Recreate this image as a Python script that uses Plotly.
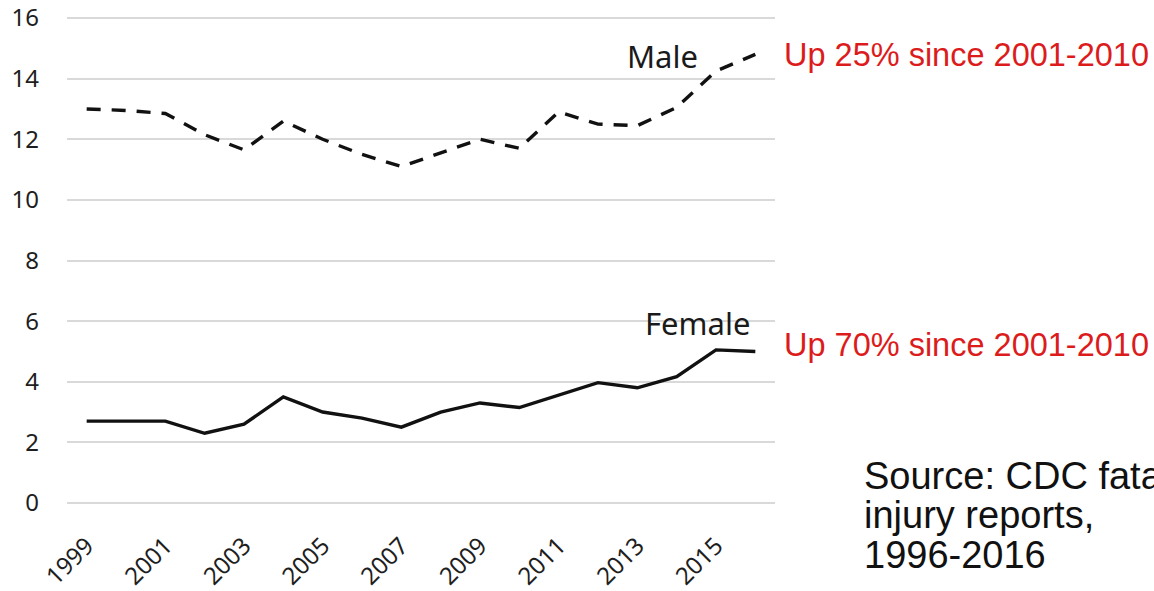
import plotly.graph_objects as go

years = [str(y) for y in range(1999, 2017)]
male = [13.0, 12.95, 12.85, 12.15, 11.65, 12.6, 12.0, 11.5, 11.1, 11.55,
        12.0, 11.7, 12.9, 12.5, 12.45, 13.05, 14.25, 14.8]
female = [2.7, 2.7, 2.7, 2.3, 2.6, 3.5, 3.0, 2.8, 2.5, 3.0,
          3.3, 3.15, 3.55, 3.97, 3.8, 4.17, 5.05, 5.0]
tick_years = years[::2]
y_ticks = [0, 2, 4, 6, 8, 10, 12, 14, 16]

series_labels = ["Male", "Female"]
change_notes = ["Up 25% since 2001-2010", "Up 70% since 2001-2010"]
source_lines = ["Source: CDC fatal", "injury reports,", "1996-2016"]

W, H = 1154, 591
L, R, T, B = 67, 379, 15, 85
pw, ph = W - L - R, H - T - B


def px(x):
    return (x - L) / pw


def py(y):
    return (H - B - y) / ph


fig = go.Figure()
fig.add_trace(go.Scatter(x=years, y=male, mode="lines", name="Male",
                         line=dict(color="#111111", width=3.4, dash="14px,11px")))
fig.add_trace(go.Scatter(x=years, y=female, mode="lines", name="Female",
                         line=dict(color="#111111", width=3.4)))

ann = []
ann.append(dict(text=series_labels[0], x=px(662), y=py(56), xanchor="center", yanchor="middle",
                font=dict(family="Noto Sans", size=31, color="#1a1a1a")))
ann.append(dict(text=series_labels[1], x=px(697), y=py(323), xanchor="center", yanchor="middle",
                font=dict(family="Noto Sans", size=31, color="#1a1a1a")))
ann.append(dict(text=change_notes[0], x=px(782), y=py(55), xanchor="left", yanchor="middle",
                font=dict(family="Liberation Sans, Arial", size=32.5, color="#dc1c1c")))
ann.append(dict(text=change_notes[1], x=px(782), y=py(345), xanchor="left", yanchor="middle",
                font=dict(family="Liberation Sans, Arial", size=32.5, color="#dc1c1c")))
for txt, yy in zip(source_lines, [476, 515, 555]):
    ann.append(dict(text=txt, x=px(862), y=py(yy), xanchor="left", yanchor="middle",
                    font=dict(family="Liberation Sans, Arial", size=38, color="#111111")))
for a in ann:
    a.update(xref="paper", yref="paper", showarrow=False)

fig.update_layout(
    width=W, height=H,
    margin=dict(l=L, r=R, t=T, b=B, autoexpand=False),
    paper_bgcolor="white", plot_bgcolor="white",
    showlegend=False,
    annotations=ann,
    font=dict(family="Noto Sans", size=24, color="#222222"),
)
fig.update_xaxes(
    type="category", range=[-0.5, 17.5], automargin=False,
    tickvals=tick_years, ticktext=tick_years, tickangle=-45,
    showgrid=False, zeroline=False, showline=False, ticks="", ticklabelstandoff=20,
    tickfont=dict(family="Noto Sans", size=24, color="#1e1e1e"),
)
fig.update_yaxes(
    range=[-0.1, 16.1], tickvals=y_ticks, showgrid=True, gridcolor="#d9d9d9", gridwidth=1.5,
    zeroline=False, showline=False, ticks="", ticklabelstandoff=27, automargin=False,
    tickfont=dict(family="Noto Sans", size=24, color="#1e1e1e"),
)

fig.write_html("out.html", config={"displayModeBar": False},
               post_script="document.body.style.margin='0';document.body.style.overflow='hidden';")
